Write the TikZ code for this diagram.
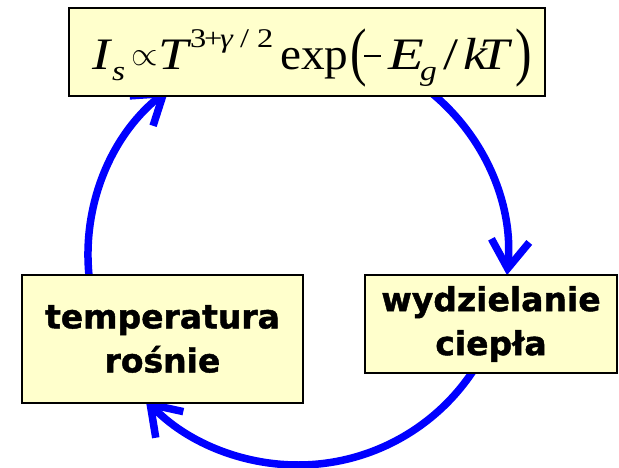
\RequirePackage{fix-cm}
\documentclass[tikz,border=0pt]{standalone}
\usepackage{graphicx}
\usepackage{fontspec}
\setmainfont{Liberation Serif}
\newfontfamily\boxfont[FakeBold=1.3]{DejaVu Sans Bold}
\usetikzlibrary{arrows.meta,calc}
\definecolor{boxfill}{HTML}{FFFFCC}
\newcommand\fs[1]{\fontsize{#1}{#1}\selectfont}
\newcommand\pc[2]{\makebox[#1pt][l]{#2}}
\newcommand\hs[1]{\scalebox{1.2}[1]{#1}}
\begin{document}
\begin{tikzpicture}[x=1pt,y=1pt,
  box/.style={draw=black, line width=1.5pt, fill=boxfill, inner sep=0pt, align=center},
  label/.style={font=\boxfont\fontsize{33}{44}\selectfont},
  flow/.style={draw=blue, line width=7.5pt, -{Straight Barb[length=28pt,width=38pt]}}]
\useasboundingbox (0,0) rectangle (619,467);
\coordinate (c) at (298,212);
% connectors (behind boxes)
\coordinate (s1) at ($(c)+(189:210)$);
\coordinate (s2) at ($(c)+(53:210)$);
\coordinate (s3) at ($(c)+(-30:210)$);
\draw[flow] (s1) arc[start angle=189, end angle=128, radius=210];
\draw[flow] (s2) arc[start angle=53, end angle=-5.5, radius=210];
\draw[flow] (s3) arc[start angle=-30, end angle=-136.5, radius=210];
% boxes
\node[box, minimum width=476pt, minimum height=88pt] (top) at (307,415) {};
\node[anchor=base west, inner sep=0pt] (eq) at (92,397) {\fs{45}%
\pc{20}{\hs{\itshape I}}%
\pc{19}{\raisebox{-11pt}{\fs{28}\hs{\itshape s}}}%
\pc{27}{\raisebox{4pt}{\fs{34}$\propto$}}%
\pc{32}{\hs{\itshape T}}%
\raisebox{22pt}{\fs{27}%
  \pc{14}{\hs{3}}\pc{16}{\hs{+}}\pc{20}{\hs{\itshape γ}}\pc{17}{\hs{/}}\pc{23}{\hs{2}}}%
\pc{70}{\scalebox{1.05}[1]{exp}}%
\pc{14}{\raisebox{-3.5pt}{\scalebox{1.1}[1.43]{(}}}%
\pc{24}{\raisebox{13pt}{\rule{17pt}{2.4pt}}}%
\pc{32}{\scalebox{1.3}[1]{\itshape E}}%
\pc{23}{\raisebox{-11pt}{\fs{28}\hs{\itshape g}}}%
\pc{20}{\hs{/}}%
\pc{16}{\hs{\itshape k}}%
\pc{36}{\hs{\itshape T}}%
\pc{16}{\raisebox{-3.5pt}{\scalebox{1.1}[1.43]{)}}}};
\node[box, label, minimum width=281pt, minimum height=128pt] (left) at (162.5,128) {temperatura\\rośnie};
\node[box, label, minimum width=252pt, minimum height=98pt] (right) at (491,143) {wydzielanie\\ciepła};
\end{tikzpicture}
\end{document}
